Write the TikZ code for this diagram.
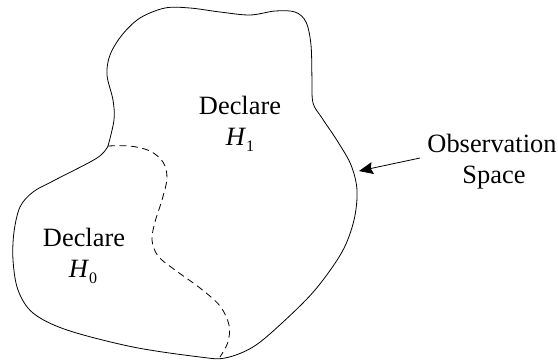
\documentclass[tikz,border=0pt]{standalone}
\usepackage{fontspec}
\setmainfont{Liberation Serif}
\usetikzlibrary{arrows.meta}
\newcommand\hsub[1]{\raisebox{-0.24em}{\fontsize{16}{16}\selectfont #1}}
\tikzset{
  lbl/.style={inner sep=0pt, anchor=base, font=\fontsize{26.4}{31}\selectfont},
  outline/.style={line width=0.8pt, line join=round},
  border/.style={line width=0.8pt, dash pattern=on 7pt off 4.5pt},
  pointer/.style={line width=0.8pt, -{Stealth[length=14pt,width=12pt,inset=2pt]}}
}
\begin{document}
\begin{tikzpicture}[x={(1pt,0)}, y={(0,-1pt)}]
\useasboundingbox (0,0) rectangle (558,360);
% observation space outline
\draw[outline] plot[smooth, tension=0.55] coordinates {
 (108,146) (114,120) (113,100) (107,75) (110,55) (122,35) (140,18) (165,8)
 (190,8) (220,12) (250,15) (275,11) (295,12) (306,22) (311,45) (312,80)
 (313,103) (322,118) (338,142) (351,165) (357,190) (354,220) (342,252)
 (315,290) (282,323) (253,347) (225,358) (200,357) (133,347) (67,330)
 (33,313) (18,290) (13,260) (14,232) (20,207) (33,192) (55,180) (97,158) (108,146)};
% decision boundary
\draw[border] plot[smooth, tension=0.55] coordinates {
 (108,146) (130,146) (150,151) (163,162) (167,178) (162,200) (155,222)
 (152,240) (158,256) (175,270) (200,288) (220,306) (229,325) (228,342) (220,357)};
% labels
\node[lbl] (d1) at (240,114) {Declare};
\node[lbl] (h1) at (240,145) {\textit{H}\hsub{1}};
\node[lbl] (d0) at (84,246) {Declare};
\node[lbl] (h0) at (83,277) {\textit{H}\hsub{0}};
\node[lbl] (obs) at (492,152) {Observation};
\node[lbl] (spc) at (494,183) {Space};
% arrow
\coordinate (tail) at (420,158);
\coordinate (tip) at (359,171);
\draw[pointer] (tail) -- (tip);
\end{tikzpicture}
\end{document}
